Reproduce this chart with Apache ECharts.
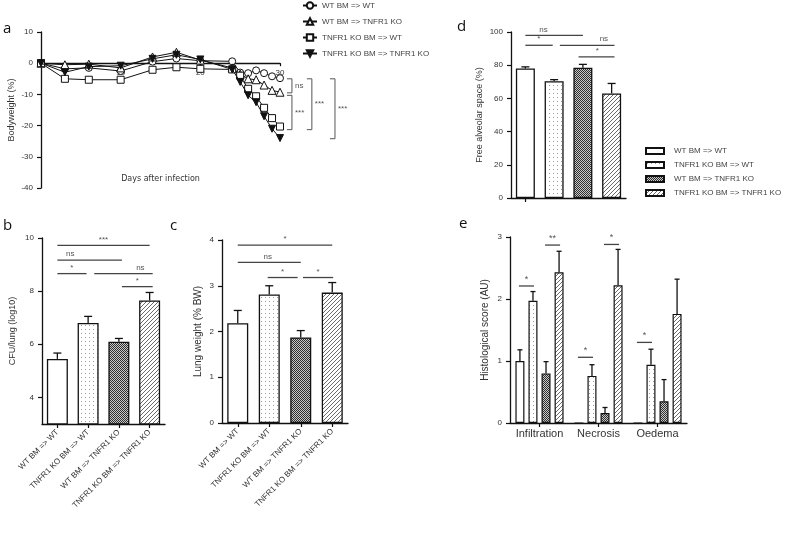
<!DOCTYPE html>
<html><head><meta charset="utf-8">
<script src="https://cdn.jsdelivr.net/npm/echarts@6/dist/echarts.min.js"></script>
<style>html,body{margin:0;padding:0;background:#fff}#c{width:787px;height:535px}</style>
</head><body><div id="c"></div>
<script>
// ---------- DATA ----------
const groups = ['WT BM => WT', 'TNFR1 KO BM => WT', 'WT BM => TNFR1 KO', 'TNFR1 KO BM => TNFR1 KO'];
const lineGroups = ['WT BM => WT', 'WT BM => TNFR1 KO', 'TNFR1 KO BM => WT', 'TNFR1 KO BM => TNFR1 KO'];
const days = [0, 3, 6, 10, 14, 17, 20, 24, 25, 26, 27, 28, 29, 30];
const bwWTtoWT = [0, -1.8, -1.5, -2.5, 0.5, 1.5, 0.8, 0.6, -3, -3.2, -2.3, -3.2, -4.2, -4.8];
const bwWTtoKO = [0, -0.5, -0.3, -1.5, 2.0, 3.5, 1.0, -1.5, -3.5, -5, -5.3, -7, -8.7, -9.3];
const bwKOtoWT = [0, -5, -5.3, -5.3, -2.1, -1.3, -1.8, -2, -4, -8.2, -10.6, -14.3, -17.6, -20.3];
const bwKOtoKO = [0, -2.9, -1.1, -0.8, 1.4, 2.7, 1.2, -2, -6, -10.3, -12.5, -17, -21, -24];
const bwSeries = [bwWTtoWT, bwWTtoKO, bwKOtoWT, bwKOtoKO];
const dayTicks = [10, 20, 30];
// brackets: [xDay, yTop, yBottom], labels
const bracketsA = [[31.5, -5, -9.5], [31.5, -10.3, -21.3], [34.0, -5, -21.3], [36.9, -5, -24.2]];
const bracketLabelsA = ['ns', '***', '***', '***'];

const cfuMean = [5.45, 6.8, 6.1, 7.65];
const cfuErr = [5.67, 7.05, 6.22, 7.95];
const cfuTicks = [4, 6, 8, 10];
const sigB = [[0, 3, 9.72, 1.5], [0, 2.1, 9.17, 0.42], [0, 0.95, 8.66, 0.47], [1.2, 3.1, 8.66, 2.7], [2.1, 3.1, 8.17, 2.6]];
const sigBLabels = ['***', 'ns', '*', 'ns', '*'];

const lungMean = [2.18, 2.81, 1.87, 2.85];
const lungErr = [2.46, 3.0, 2.02, 3.07];
const sigC = [[0, 3, 3.89, 1.5], [0, 2, 3.51, 0.95], [0.95, 1.9, 3.18, 1.42], [2.07, 3.03, 3.18, 2.55]];
const sigCLabels = ['*', 'ns', '*', '*'];

const alvMean = [78, 70.3, 78.5, 63];
const alvErr = [79, 71.3, 80.5, 69];
const sigD = [[0, 2, 98, 0.63], [0, 0.95, 92, 0.47], [1.2, 3.1, 92, 2.73], [1.85, 3.1, 85, 2.5]];
const sigDLabels = ['ns', '*', 'ns', '*'];

const histCats = ['Infiltration', 'Necrosis', 'Oedema'];
const histMean = [[1.0, 0, 0], [1.97, 0.76, 0.94], [0.8, 0.16, 0.35], [2.43, 2.22, 1.76]];
const histErr = [[1.18, 0, 0], [2.12, 0.94, 1.19], [0.99, 0.25, 0.7], [2.77, 2.8, 2.32]];
// [category, fromBar, toBar, y]
const sigE = [[0, 0, 1, 2.21], [0, 2, 3, 2.87], [1, 0, 1, 1.06], [1, 2, 3, 2.88], [2, 0, 1, 1.3]];
const sigELabels = ['*', '**', '*', '*', '*'];

// ---------- STYLE ----------
const FF = 'Liberation Sans, Arial, sans-serif';
const AX = '#111';
const TXT = '#333';
function pat(kind) {
  const c = document.createElement('canvas');
  const x = c.getContext('2d');
  if (kind === 'dots') {
    c.width = 4; c.height = 4; x.fillStyle = '#fff'; x.fillRect(0, 0, 4, 4);
    x.fillStyle = '#9a9a9a'; x.fillRect(1, 1, 1, 1);
  } else if (kind === 'dense') {
    c.width = 2; c.height = 2; x.fillStyle = '#c8c8c8'; x.fillRect(0, 0, 2, 2);
    x.fillStyle = '#2e2e2e'; x.fillRect(0, 0, 1, 1); x.fillRect(1, 1, 1, 1);
  } else {
    c.width = 4; c.height = 4; x.fillStyle = '#fff'; x.fillRect(0, 0, 4, 4);
    x.fillStyle = '#6a6a6a';
    for (let i = 0; i < 4; i++) x.fillRect(i, 3 - i, 1, 1);
  }
  return { image: c, repeat: 'repeat' };
}
const fills = ['#ffffff', pat('dots'), pat('dense'), pat('hatch')];

const chart = echarts.init(document.getElementById('c'), null, { renderer: 'canvas' });

function axisBase(extra) {
  return Object.assign({
    axisLine: { show: true, onZero: false, lineStyle: { color: AX, width: 1.3 } },
    axisTick: { show: true, length: 4, lineStyle: { color: AX, width: 1.2 } },
    axisLabel: { color: TXT, fontSize: 8, fontFamily: FF },
    splitLine: { show: false },
    nameTextStyle: { color: TXT, fontSize: 9, fontFamily: FF }
  }, extra);
}

const gridA = { left: 41, top: 32, width: 239, height: 156 };
const grids = [
  gridA,
  { left: 42, top: 238, width: 123, height: 186 },
  { left: 222, top: 240, width: 126, height: 183 },
  { left: 511, top: 32, width: 115, height: 166 },
  { left: 510, top: 237, width: 177, height: 186 }
];
const yMinA = -40, yMaxA = 10;
// pixel distance from grid bottom up to value 0 (so the day axis sits on y = 0)
const zeroOffsetA = -gridA.height * (0 - yMinA) / (yMaxA - yMinA);

const xAxis = [
  axisBase({ gridIndex: 0, type: 'value', min: 0, max: 30,
    offset: zeroOffsetA,
    axisTick: { show: true, length: 3, customValues: dayTicks, lineStyle: { color: AX, width: 1.2 } },
    axisLabel: { color: TXT, fontSize: 8, fontFamily: FF, margin: 6, customValues: dayTicks },
    name: 'Days after infection', nameLocation: 'middle', nameGap: 112,
    nameTextStyle: { color: TXT, fontSize: 8, fontFamily: 'DejaVu Sans' } }),
  axisBase({ gridIndex: 1, type: 'category', data: groups,
    axisTick: { show: true, alignWithLabel: true, length: 4, lineStyle: { color: AX, width: 1.2 } },
    axisLabel: { color: TXT, fontSize: 8, fontFamily: FF, rotate: 45, margin: 7, interval: 0 } }),
  { gridIndex: 1, type: 'value', min: -0.5, max: 3.5, show: false },
  axisBase({ gridIndex: 2, type: 'category', data: groups,
    axisTick: { show: true, alignWithLabel: true, length: 4, lineStyle: { color: AX, width: 1.2 } },
    axisLabel: { color: TXT, fontSize: 8, fontFamily: FF, rotate: 45, margin: 7, interval: 0 } }),
  { gridIndex: 2, type: 'value', min: -0.5, max: 3.5, show: false },
  axisBase({ gridIndex: 3, type: 'category', data: groups,
    axisTick: { show: true, alignWithLabel: true, length: 4, lineStyle: { color: AX, width: 1.2 } },
    axisLabel: { show: false } }),
  { gridIndex: 3, type: 'value', min: -0.5, max: 3.5, show: false },
  axisBase({ gridIndex: 4, type: 'category', data: histCats,
    axisTick: { show: true, alignWithLabel: true, length: 4, lineStyle: { color: AX, width: 1.2 } },
    axisLabel: { color: TXT, fontSize: 11, fontFamily: FF, margin: 5, interval: 0 } }),
  { gridIndex: 4, type: 'value', min: -0.5, max: 2.5, show: false }
];

const yAxis = [
  axisBase({ gridIndex: 0, type: 'value', min: yMinA, max: yMaxA, interval: 10,
    name: 'Bodyweight (%)', nameLocation: 'middle', nameGap: 25 }),
  axisBase({ gridIndex: 1, type: 'value', min: 3, max: 10,
    axisTick: { show: true, length: 4, customValues: cfuTicks, lineStyle: { color: AX, width: 1.2 } },
    axisLabel: { color: TXT, fontSize: 8, fontFamily: FF, customValues: cfuTicks },
    name: 'CFU/lung (log10)', nameLocation: 'middle', nameGap: 25 }),
  axisBase({ gridIndex: 2, type: 'value', min: 0, max: 4, interval: 1,
    name: 'Lung weight (% BW)', nameLocation: 'middle', nameGap: 19,
    nameTextStyle: { color: TXT, fontSize: 10, fontFamily: FF } }),
  axisBase({ gridIndex: 3, type: 'value', min: 0, max: 100, interval: 20,
    name: 'Free alveolar space (%)', nameLocation: 'middle', nameGap: 27 }),
  axisBase({ gridIndex: 4, type: 'value', min: 0, max: 3, interval: 1,
    name: 'Histological score (AU)', nameLocation: 'middle', nameGap: 20,
    nameTextStyle: { color: TXT, fontSize: 10, fontFamily: FF } })
];

const series = [];
// Panel a lines
const symbols = ['circle', 'triangle', 'rect', 'triangle'];
bwSeries.forEach((vals, i) => {
  series.push({
    type: 'line', name: 'a:' + lineGroups[i], xAxisIndex: 0, yAxisIndex: 0,
    data: days.map((d, j) => [d, vals[j]]),
    symbol: symbols[i], symbolSize: i === 1 ? 8 : 7, symbolRotate: i === 3 ? 180 : 0,
    showSymbol: true,
    lineStyle: { color: AX, width: 1 },
    itemStyle: { color: i === 3 ? AX : '#fff', borderColor: AX, borderWidth: 1 },
    z: 3 + i
  });
});
// brackets panel a
series.push({
  type: 'custom', xAxisIndex: 0, yAxisIndex: 0, clip: false, silent: true, z: 10,
  data: bracketsA,
  renderItem: function (params, api) {
    const pTop = api.coord([api.value(0), api.value(1)]);
    const pBot = api.coord([api.value(0), api.value(2)]);
    const lab = bracketLabelsA[params.dataIndex];
    return { type: 'group', children: [
      { type: 'polyline', shape: { points: [[pTop[0] - 5, pTop[1]], [pTop[0], pTop[1]], [pBot[0], pBot[1]], [pBot[0] - 5, pBot[1]]] },
        style: { stroke: '#555', lineWidth: 1, fill: null } },
      { type: 'text', x: pTop[0] + 3, y: (pTop[1] + pBot[1]) / 2,
        style: { text: lab, fill: '#555', fontSize: 8, fontFamily: FF, align: 'left', verticalAlign: 'middle', textAlign: 'left', textVerticalAlign: 'middle' } }
    ] };
  }
});

function barSeries(xi, yi, means, bw) {
  return { type: 'bar', xAxisIndex: xi, yAxisIndex: yi, barWidth: bw,
    data: means.map((v, i) => ({ value: v, itemStyle: { color: fills[i], borderColor: AX, borderWidth: 1.3 } })), z: 2 };
}
function errSeries(xi, yi, means, errs, cap) {
  return { type: 'custom', xAxisIndex: xi, yAxisIndex: yi, silent: true, z: 5, clip: false,
    data: means.map((v, i) => [i, v, errs[i]]),
    renderItem: function (params, api) {
      const p1 = api.coord([api.value(0), api.value(1)]);
      const p2 = api.coord([api.value(0), api.value(2)]);
      return { type: 'group', children: [
        { type: 'line', shape: { x1: p1[0], y1: p1[1], x2: p2[0], y2: p2[1] }, style: { stroke: AX, lineWidth: 1.3 } },
        { type: 'line', shape: { x1: p2[0] - cap / 2, y1: p2[1], x2: p2[0] + cap / 2, y2: p2[1] }, style: { stroke: AX, lineWidth: 1.3 } }
      ] };
    } };
}
function sigSeries(xi, yi, rows, labels) {
  return { type: 'custom', xAxisIndex: xi, yAxisIndex: yi, silent: true, z: 6, clip: false,
    data: rows.map(r => [r[0], r[1], r[2], r[3]]),
    renderItem: function (params, api) {
      const a = api.coord([api.value(0), api.value(2)]);
      const b = api.coord([api.value(1), api.value(2)]);
      const t = api.coord([api.value(3), api.value(2)]);
      return { type: 'group', children: [
        { type: 'line', shape: { x1: a[0], y1: a[1], x2: b[0], y2: b[1] }, style: { stroke: '#444', lineWidth: 1.3 } },
        { type: 'text', x: t[0], y: a[1] - 2,
          style: { text: labels[params.dataIndex], fill: '#555', fontSize: 8, fontFamily: FF, align: 'center', verticalAlign: 'bottom', textAlign: 'center', textVerticalAlign: 'bottom' } }
      ] };
    } };
}
// b, c, d
series.push(barSeries(1, 1, cfuMean, 21), errSeries(2, 1, cfuMean, cfuErr, 8), sigSeries(2, 1, sigB, sigBLabels));
series.push(barSeries(3, 2, lungMean, 21), errSeries(4, 2, lungMean, lungErr, 8), sigSeries(4, 2, sigC, sigCLabels));
series.push(barSeries(5, 3, alvMean, 19), errSeries(6, 3, alvMean, alvErr, 8), sigSeries(6, 3, sigD, sigDLabels));

// e
const BWE = 9, GAPE = 0.45, STEP = BWE * (1 + GAPE);
groups.forEach((g, k) => {
  series.push({ type: 'bar', name: g, xAxisIndex: 7, yAxisIndex: 4, barWidth: BWE, barGap: (GAPE * 100) + '%',
    data: histMean[k], itemStyle: { color: fills[k], borderColor: AX, borderWidth: 1.2 }, z: 2 });
});
const errRowsE = [];
histMean.forEach((arr, k) => arr.forEach((v, c) => { if (histErr[k][c] > v) errRowsE.push([c, k, v, histErr[k][c]]); }));
series.push({ type: 'custom', xAxisIndex: 8, yAxisIndex: 4, silent: true, z: 5, clip: false,
  data: errRowsE,
  renderItem: function (params, api) {
    const off = (api.value(1) - 1.5) * STEP;
    const p1 = api.coord([api.value(0), api.value(2)]);
    const p2 = api.coord([api.value(0), api.value(3)]);
    const x = p1[0] + off;
    return { type: 'group', children: [
      { type: 'line', shape: { x1: x, y1: p1[1], x2: x, y2: p2[1] }, style: { stroke: AX, lineWidth: 1.3 } },
      { type: 'line', shape: { x1: x - 2.5, y1: p2[1], x2: x + 2.5, y2: p2[1] }, style: { stroke: AX, lineWidth: 1.3 } }
    ] };
  } });
series.push({ type: 'custom', xAxisIndex: 8, yAxisIndex: 4, silent: true, z: 6, clip: false,
  data: sigE,
  renderItem: function (params, api) {
    const base = api.coord([api.value(0), api.value(3)]);
    const x1 = base[0] + (api.value(1) - 1.5) * STEP;
    const x2 = base[0] + (api.value(2) - 1.5) * STEP;
    return { type: 'group', children: [
      { type: 'line', shape: { x1: x1 - 1, y1: base[1], x2: x2 + 1, y2: base[1] }, style: { stroke: '#444', lineWidth: 1.3 } },
      { type: 'text', x: (x1 + x2) / 2, y: base[1] - 2,
        style: { text: sigELabels[params.dataIndex], fill: '#555', fontSize: 9, fontFamily: FF, align: 'center', verticalAlign: 'bottom', textAlign: 'center', textVerticalAlign: 'bottom' } }
    ] };
  } });

const panelLabel = (t, x, y) => ({ type: 'text', left: x, top: y, style: { text: t, fill: '#111', fontSize: 15, fontFamily: 'Open Sans, Liberation Sans, sans-serif' } });

chart.setOption({
  animation: false,
  backgroundColor: '#fff',
  grid: grids,
  xAxis: xAxis,
  yAxis: yAxis,
  legend: [
    { data: lineGroups.map(g => 'a:' + g), orient: 'vertical', left: 302, top: 0, padding: 0, itemWidth: 14, itemHeight: 8, itemGap: 5,
      formatter: n => n.slice(2), selectedMode: false,
      textStyle: { color: '#444', fontSize: 8, fontFamily: FF, lineHeight: 11 } },
    { data: groups, orient: 'vertical', left: 645, top: 146, padding: 0, itemWidth: 18, itemHeight: 6, itemGap: 4, icon: 'rect', selectedMode: false,
      textStyle: { color: '#444', fontSize: 8, fontFamily: FF, lineHeight: 10, padding: [0, 0, 0, 5] } }
  ],
  graphic: [panelLabel('a', 3, 21), panelLabel('b', 3, 218), panelLabel('c', 170, 218), panelLabel('d', 457, 19), panelLabel('e', 459, 216)],
  series: series
});
</script></body></html>
